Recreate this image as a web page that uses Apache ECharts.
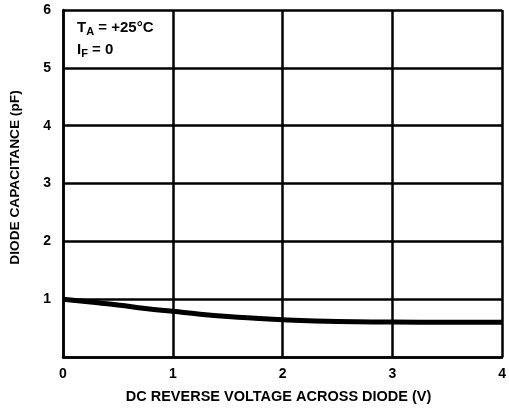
<!DOCTYPE html>
<html><head><meta charset="utf-8">
<script src="https://cdn.jsdelivr.net/npm/echarts@6/dist/echarts.min.js"></script>
<style>html,body{margin:0;padding:0;background:#fff}#c{width:509px;height:410px}</style>
</head><body><div id="c"></div>
<script>
const voltage = [0, 0.25, 0.5, 0.75, 1, 1.25, 1.5, 1.75, 2, 2.5, 3, 3.5, 4];
const capacitance = [1.0, 0.95, 0.9, 0.84, 0.79, 0.74, 0.7, 0.67, 0.645, 0.615, 0.605, 0.6, 0.6];
const xTicks = [0, 1, 2, 3, 4];
const yTicks = [1, 2, 3, 4, 5, 6];

const chart = echarts.init(document.getElementById('c'));
const font = 'Liberation Sans, Arial, sans-serif';
chart.setOption({
  animation: false,
  backgroundColor: '#fff',
  grid: {left: 59, right: 4, top: 10, bottom: 53, containLabel: false},
  title: {
    text: '{m|T}{s|A}{m| = +25°C}\n{m|I}{s|F}{m| = 0}',
    left: 72, top: 12,
    textStyle: {
      fontFamily: font, fontWeight: 'bold', lineHeight: 22,
      rich: {
        m: {fontSize: 15, fontWeight: 'bold', fontFamily: font, color: '#000', lineHeight: 22},
        s: {fontSize: 11, fontWeight: 'bold', fontFamily: font, color: '#000', padding: [8, 0, 0, 0], lineHeight: 22}
      }
    }
  },
  xAxis: {
    type: 'value', min: 0, max: 4, interval: 1,
    name: 'DC REVERSE VOLTAGE ACROSS DIODE (V)',
    nameLocation: 'middle', nameGap: 32,
    nameTextStyle: {fontFamily: font, fontWeight: 'bold', fontSize: 14.5, color: '#000', padding: [0, 8, 0, 0]},
    axisLine: {show: true, lineStyle: {color: '#000', width: 2.5}},
    axisTick: {show: false},
    axisLabel: {fontFamily: font, fontWeight: 'bold', fontSize: 14, color: '#000', margin: 10,
      formatter: v => xTicks.includes(v) ? String(v) : ''},
    splitLine: {show: true, lineStyle: {color: '#000', width: 2.5}}
  },
  yAxis: {
    type: 'value', min: 0, max: 6, interval: 1,
    name: 'DIODE CAPACITANCE (pF)',
    nameLocation: 'middle', nameGap: 41,
    nameTextStyle: {fontFamily: font, fontWeight: 'bold', fontSize: 13.7, color: '#000', padding: [0, 0, 0, 12]},
    axisLine: {show: true, lineStyle: {color: '#000', width: 2.5}},
    axisTick: {show: false},
    axisLabel: {fontFamily: font, fontWeight: 'bold', fontSize: 14, color: '#000', margin: 12,
      formatter: v => yTicks.includes(v) ? String(v) : ''},
    splitLine: {show: true, lineStyle: {color: '#000', width: 2.5}}
  },
  series: [{
    type: 'line', smooth: true, symbol: 'none',
    data: voltage.map((v, i) => [v, capacitance[i]]),
    lineStyle: {color: '#000', width: 5}
  }]
});
</script></body></html>
